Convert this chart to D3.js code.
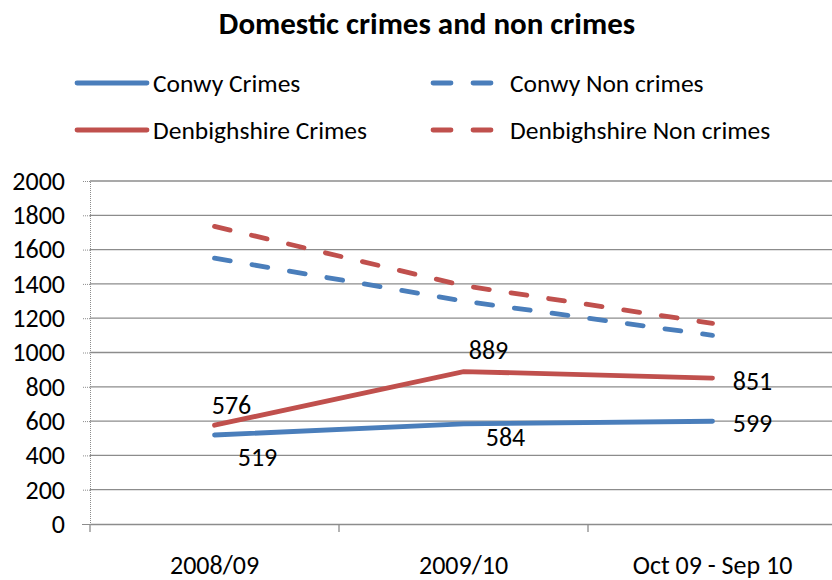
<!DOCTYPE html>
<html>
<head>
<meta charset="utf-8">
<script src="https://cdn.jsdelivr.net/npm/d3@7"></script>
<style>
  body { margin: 0; background: #fff; }
  svg { font-family: Carlito, Calibri, Lato, "Open Sans", sans-serif; }
</style>
</head>
<body>
<svg id="chart" width="832" height="580"></svg>
<script>
var categories = ["2008/09", "2009/10", "Oct 09 - Sep 10"];
var conwyCrimes = [519, 584, 599];
var conwyNonCrimes = [1550, 1300, 1100];
var denbighCrimes = [576, 889, 851];
var denbighNonCrimes = [1735, 1390, 1170];
var yTicks = [0, 200, 400, 600, 800, 1000, 1200, 1400, 1600, 1800, 2000];

var series = [
  {name: "Conwy Crimes", values: conwyCrimes, color: "#4a7ebb", dashed: false, labels: true},
  {name: "Conwy Non crimes", values: conwyNonCrimes, color: "#4a7ebb", dashed: true, labels: false},
  {name: "Denbighshire Crimes", values: denbighCrimes, color: "#c0504d", dashed: false, labels: true},
  {name: "Denbighshire Non crimes", values: denbighNonCrimes, color: "#c0504d", dashed: true, labels: false}
];

// hand placed label offsets (dx, dy) from each point, like the original
var labelOffsets = {
  "Conwy Crimes": [[43, 22], [42, 13], [40, 2]],
  "Denbighshire Crimes": [[17, -20], [25, -22], [40, 3]]
};

var svg = d3.select("#chart"),
    mLeft = 90, mRight = 837, mTop = 181, mBottom = 524;

var x = d3.scaleBand().domain(categories).range([mLeft, mRight]);
var y = d3.scaleLinear().domain([0, 2000]).range([mBottom, mTop]);

svg.append("text")
    .attr("x", 427).attr("y", 34)
    .attr("text-anchor", "middle")
    .attr("font-size", 31).attr("font-weight", "bold")
    .text("Domestic crimes and non crimes");

// gridlines
svg.append("g").selectAll("line")
  .data(yTicks.slice(1))
  .enter().append("line")
    .attr("x1", mLeft).attr("x2", 832)
    .attr("y1", function(d) { return y(d); })
    .attr("y2", function(d) { return y(d); })
    .attr("stroke", "#8c8c8c").attr("stroke-width", 1.3);

// y axis (dotted)
var yAxis = svg.append("g")
    .attr("transform", "translate(" + mLeft + ",0)")
    .call(d3.axisLeft(y).tickValues(yTicks).tickFormat(d3.format("d")).tickSize(8).tickPadding(17));
yAxis.select(".domain").attr("stroke", "#8c8c8c").attr("stroke-dasharray", "1,1");
yAxis.selectAll(".tick line").attr("stroke", "#8c8c8c").attr("stroke-dasharray", "1,1");
yAxis.selectAll("text").attr("font-size", 26).attr("fill", "#000")
    .attr("font-family", "Carlito, Calibri, Lato, sans-serif");

// x axis
var xAxis = svg.append("g")
    .attr("transform", "translate(0," + mBottom + ")")
    .call(d3.axisBottom(x).tickSize(0).tickPadding(32));
xAxis.select(".domain").attr("stroke", "#8c8c8c").attr("stroke-width", 1.5);
xAxis.selectAll("text").attr("font-size", 26).attr("fill", "#000")
    .attr("font-family", "Carlito, Calibri, Lato, sans-serif");
xAxis.append("g").selectAll("line")
  .data([mLeft].concat(categories.map(function(c) { return x(c) + x.bandwidth(); })))
  .enter().append("line")
    .attr("x1", function(d) { return d; }).attr("x2", function(d) { return d; })
    .attr("y1", 0).attr("y2", 8)
    .attr("stroke", "#8c8c8c").attr("stroke-width", 1.3);

var line = d3.line()
    .x(function(d, i) { return x(categories[i]) + x.bandwidth() / 2; })
    .y(function(d) { return y(d); });

svg.append("g").selectAll("path")
  .data(series)
  .enter().append("path")
    .attr("d", function(d) { return line(d.values); })
    .attr("fill", "none")
    .attr("stroke", function(d) { return d.color; })
    .attr("stroke-width", 4.8)
    .attr("stroke-linecap", "round")
    .attr("stroke-dasharray", function(d) { return d.dashed ? "16,22" : null; });

series.filter(function(s) { return s.labels; }).forEach(function(s) {
  svg.append("g").selectAll("text")
    .data(s.values)
    .enter().append("text")
      .attr("x", function(d, i) { return x(categories[i]) + x.bandwidth() / 2 + labelOffsets[s.name][i][0]; })
      .attr("y", function(d, i) { return y(d) + labelOffsets[s.name][i][1]; })
      .attr("dy", "0.35em")
      .attr("text-anchor", "middle")
      .attr("font-size", 26)
      .text(function(d) { return d; });
});

// legend
var legendPos = [[77, 83], [433, 83], [77, 130], [433, 130]];
var legend = svg.append("g").selectAll("g")
  .data(series)
  .enter().append("g")
    .attr("transform", function(d, i) { return "translate(" + legendPos[i][0] + "," + legendPos[i][1] + ")"; });
legend.append("line")
    .attr("x1", 0).attr("x2", function(d) { return d.dashed ? 60 : 70; })
    .attr("stroke", function(d) { return d.color; })
    .attr("stroke-width", 4.8)
    .attr("stroke-linecap", "round")
    .attr("stroke-dasharray", function(d) { return d.dashed ? "18,22" : null; });
legend.append("text")
    .attr("x", function(d) { return d.dashed ? 77 : 76; })
    .attr("dy", "0.35em")
    .attr("font-size", 25.5)
    .text(function(d) { return d.name; });
</script>
</body>
</html>
